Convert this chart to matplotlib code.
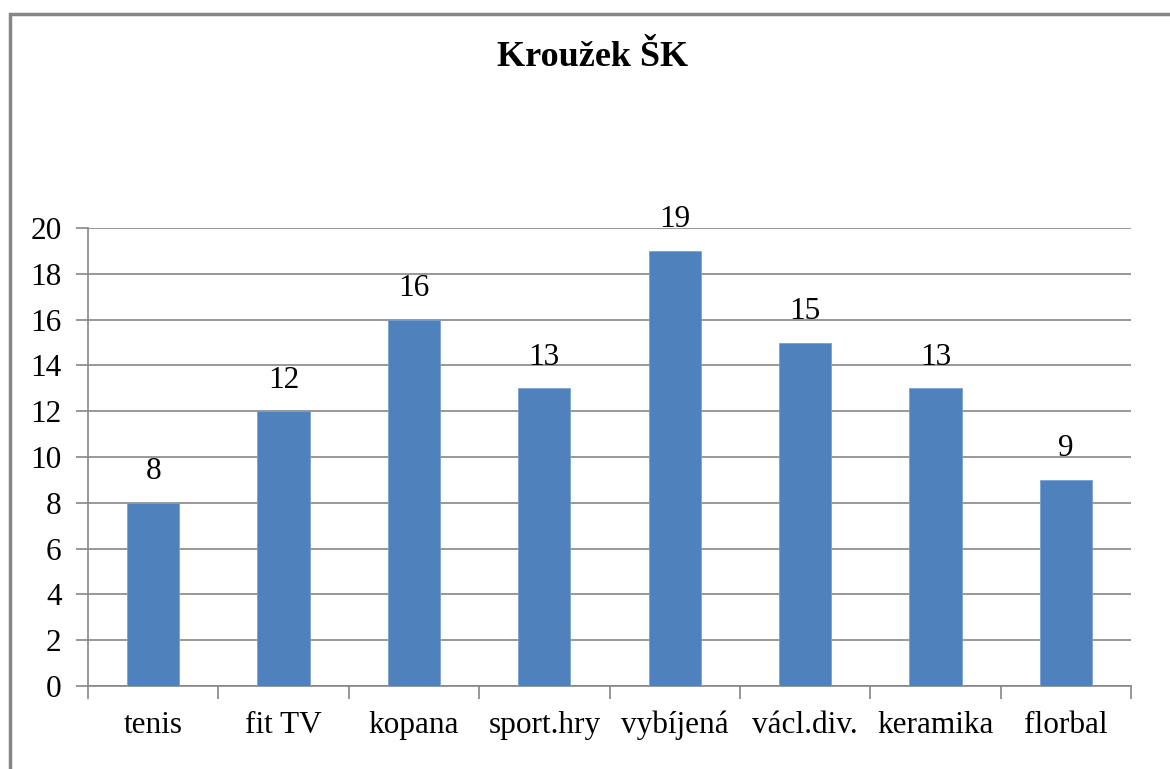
import matplotlib
matplotlib.use("Agg")
import matplotlib.pyplot as plt
from matplotlib.patches import Rectangle

categories = ["tenis", "fit TV", "kopana", "sport.hry", "vybíjená", "václ.div.", "keramika", "florbal"]
values = [8, 12, 16, 13, 19, 15, 13, 9]
yticks = [0, 2, 4, 6, 8, 10, 12, 14, 16, 18, 20]

plt.rcParams["font.family"] = ["Liberation Serif", "DejaVu Serif"]

fig = plt.figure(figsize=(11.7, 7.69), dpi=100)
fig.patches.append(Rectangle((10 / 1170, -0.1), 1.2, 1 - 14 / 769 + 0.1,
                             transform=fig.transFigure, fill=False,
                             edgecolor="#868686", linewidth=2.5))

ax = fig.add_axes([88 / 1170, 1 - 686 / 769, 1043 / 1170, 458 / 769])
x = list(range(len(categories)))
ax.bar(x, values, width=0.4, color="#4F81BD", edgecolor="#7da0d0", linewidth=0.6, zorder=3)
for xi, v in zip(x, values):
    ax.annotate(str(v), (xi, v), xytext=(0, 12), textcoords="offset points",
                ha="center", va="bottom", fontsize=22.5)

ax.set_xlim(-0.5, len(categories) - 0.5)
ax.set_ylim(0, 20)
ax.set_yticks(yticks)
ax.set_yticklabels([str(t) for t in yticks], fontsize=22.5)
ax.yaxis.grid(True, color="#868686", linewidth=1.2, zorder=0)
ax.set_xticks(x)
ax.set_xticklabels(categories, fontsize=22.5)
ax.tick_params(axis="x", length=0, pad=18)
ax.set_xticks([i - 0.5 for i in range(len(categories) + 1)], minor=True)
ax.tick_params(axis="x", which="minor", length=9, color="#868686", width=1.2)
ax.tick_params(axis="y", length=9, color="#868686", width=1.2, pad=10)
for s in ["top", "right"]:
    ax.spines[s].set_visible(False)
for s in ["left", "bottom"]:
    ax.spines[s].set_color("#868686")
    ax.spines[s].set_linewidth(1.2)

fig.text(593 / 1170, 1 - 57 / 769, "Kroužek ŠK", ha="center", va="center",
         fontsize=26, fontweight="bold")

fig.savefig("out.png", dpi=100)
